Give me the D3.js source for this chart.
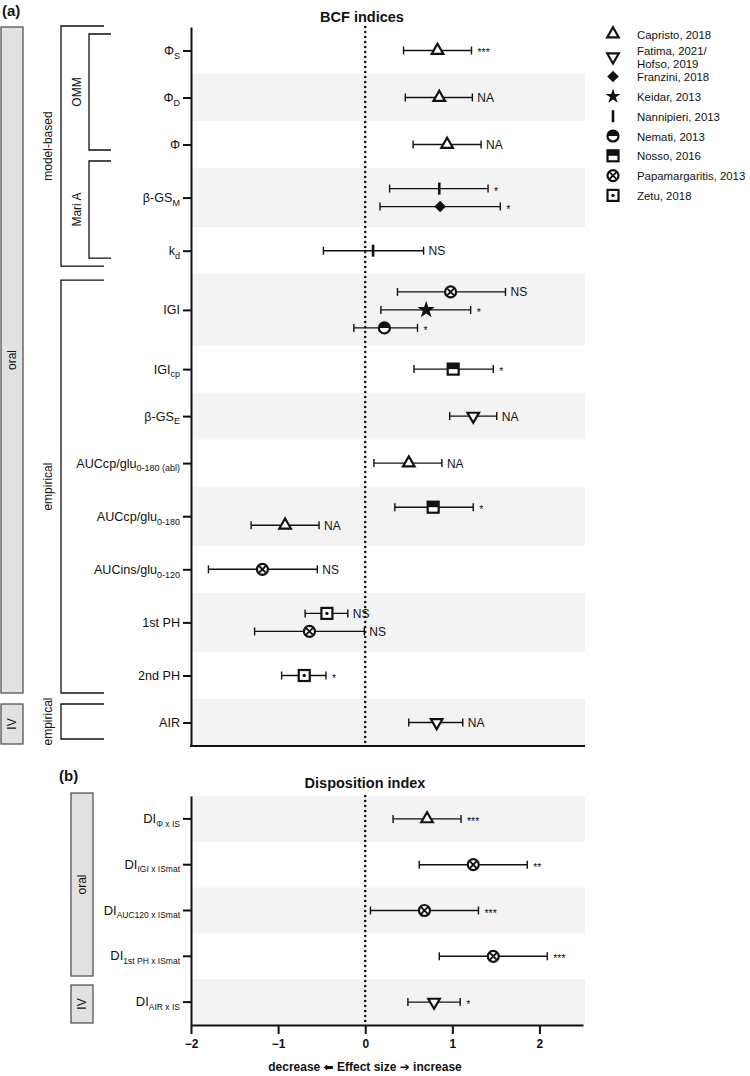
<!DOCTYPE html>
<html>
<head>
<meta charset="utf-8">
<script src="https://cdn.jsdelivr.net/npm/d3@7"></script>
<style>
body { margin: 0; background: #fff; }
text { font-family: "Liberation Sans", Arial, sans-serif; fill: #111; }
</style>
</head>
<body>
<div id="chart"></div>
<script>
// ---- panel (a): BCF indices ----
const bcfLabels = ["Φ", "Φ", "Φ", "β-GS", "k", "IGI", "IGI", "β-GS", "AUCcp/glu", "AUCcp/glu", "AUCins/glu", "1st PH", "2nd PH", "AIR"];
const bcfSubs   = ["S", "D", "", "M", "d", "", "cp", "E", "0-180 (abl)", "0-180", "0-120", "", "", ""];

// one entry per estimate
const bcfRow   = [0, 1, 2, 3, 3, 4, 5, 5, 5, 6, 7, 8, 9, 9, 10, 11, 11, 12, 13];
const bcfStudy = ["Capristo", "Capristo", "Capristo", "Nannipieri", "Franzini", "Nannipieri",
                  "Papamargaritis", "Keidar", "Nemati", "Nosso", "Fatima", "Capristo", "Nosso",
                  "Capristo", "Papamargaritis", "Zetu", "Papamargaritis", "Zetu", "Fatima"];
const bcfEst = [0.83, 0.85, 0.94, 0.85, 0.86, 0.09, 0.98, 0.70, 0.22, 1.01, 1.24, 0.50, 0.78, -0.92, -1.18, -0.44, -0.64, -0.70, 0.82];
const bcfLo  = [0.44, 0.46, 0.55, 0.28, 0.17, -0.48, 0.37, 0.18, -0.13, 0.56, 0.97, 0.10, 0.34, -1.31, -1.80, -0.69, -1.27, -0.96, 0.50];
const bcfHi  = [1.22, 1.23, 1.33, 1.41, 1.55, 0.67, 1.61, 1.21, 0.60, 1.47, 1.51, 0.88, 1.24, -0.53, -0.55, -0.20, -0.01, -0.45, 1.12];
const bcfSig = ["***", "NA", "NA", "*", "*", "NS", "NS", "*", "*", "*", "NA", "NA", "*", "NA", "NS", "NS", "NS", "*", "NA"];

// ---- panel (b): disposition index ----
const diSubs  = ["Φ x IS", "IGI x ISmat", "AUC120 x ISmat", "1st PH x ISmat", "AIR x IS"];
const diStudy = ["Capristo", "Papamargaritis", "Papamargaritis", "Papamargaritis", "Fatima"];
const diEst = [0.71, 1.24, 0.68, 1.47, 0.79];
const diLo  = [0.32, 0.62, 0.06, 0.85, 0.49];
const diHi  = [1.10, 1.86, 1.30, 2.09, 1.09];
const diSig = ["***", "**", "***", "***", "*"];

// ---- legend / axis ----
const studies = ["Capristo", "Fatima", "Franzini", "Keidar", "Nannipieri", "Nemati", "Nosso", "Papamargaritis", "Zetu"];
const studyLabels = [["Capristo, 2018"], ["Fatima, 2021/", "Hofso, 2019"], ["Franzini, 2018"], ["Keidar, 2013"],
                     ["Nannipieri, 2013"], ["Nemati, 2013"], ["Nosso, 2016"], ["Papamargaritis, 2013"], ["Zetu, 2018"]];
const xTicks = [-2, -1, 0, 1, 2];

const W = 750, H = 1076;
const svg = d3.select("#chart").append("svg")
    .attr("width", W).attr("height", H)
    .attr("viewBox", `0 0 ${W} ${H}`);

const x = d3.scaleLinear().domain([-2, 2.5]).range([191, 583]);
const plotRight = 585;
const shade = "#f3f3f3";

// row layout for (a): rows with more estimates get more room
const nPerRow = bcfLabels.map((_, i) => bcfRow.filter(r => r === i).length);
const units = nPerRow.map(n => 1 + 0.26 * (n - 1));
const starts = [];
units.reduce((acc, u, i) => { starts[i] = acc; return acc + u; }, 0);
const totalUnits = d3.sum(units);
const yA = d3.scaleLinear().domain([0, totalUnits]).range([27, 746]);
const rowTop = i => yA(starts[i]);
const rowBot = i => yA(starts[i] + units[i]);
const rowMid = i => yA(starts[i] + units[i] / 2);
const midUnits = bcfLabels.map((_, i) => starts[i] + units[i] / 2);

// y position of each estimate inside its row
const bcfY = bcfRow.map((r, k) => {
  const j = bcfRow.slice(0, k).filter(v => v === r).length;
  return rowMid(r) + (j - (nPerRow[r] - 1) / 2) * 18;
});

const yB = d3.scaleBand().domain(diSubs).range([796, 1025]);

// ---- markers ----
function marker(g, study, cx, cy, legend) {
  const m = g.append("g").attr("transform", `translate(${cx},${cy})`);
  const sw = 2.2;
  if (study === "Capristo" || study === "Fatima") {
    m.append("path")
      .attr("d", d3.symbol(d3.symbolTriangle, 58)())
      .attr("transform", study === "Fatima" ? "rotate(180)" : null)
      .attr("fill", "#fff").attr("stroke", "#111").attr("stroke-width", sw);
  } else if (study === "Franzini") {
    m.append("path").attr("d", d3.symbol(d3.symbolSquare, 66)())
      .attr("transform", "rotate(45)").attr("fill", "#111");
  } else if (study === "Keidar") {
    m.append("path").attr("d", d3.symbol(d3.symbolStar, legend ? 70 : 95)()).attr("fill", "#111");
  } else if (study === "Nannipieri") {
    m.append("line").attr("y1", -6).attr("y2", 6)
      .attr("stroke", "#111").attr("stroke-width", 2.6);
  } else if (study === "Nemati") {
    m.append("circle").attr("r", 5.5).attr("fill", "#fff").attr("stroke", "#111").attr("stroke-width", sw);
    m.append("path").attr("d", d3.arc()({ innerRadius: 0, outerRadius: 5.5, startAngle: -Math.PI / 2, endAngle: Math.PI / 2 }))
      .attr("fill", "#111");
  } else if (study === "Nosso") {
    m.append("rect").attr("x", -5.5).attr("y", -5.5).attr("width", 11).attr("height", 11)
      .attr("fill", "#fff").attr("stroke", "#111").attr("stroke-width", sw);
    m.append("rect").attr("x", -5.5).attr("y", -5.5).attr("width", 11).attr("height", 5.5).attr("fill", "#111");
  } else if (study === "Papamargaritis") {
    m.append("circle").attr("r", 5.5).attr("fill", "#fff").attr("stroke", "#111").attr("stroke-width", sw);
    m.append("path").attr("d", "M-3.3,-3.3L3.3,3.3M-3.3,3.3L3.3,-3.3")
      .attr("stroke", "#111").attr("stroke-width", 1.8);
  } else if (study === "Zetu") {
    m.append("rect").attr("x", -5.5).attr("y", -5.5).attr("width", 11).attr("height", 11)
      .attr("fill", "#fff").attr("stroke", "#111").attr("stroke-width", sw);
    m.append("circle").attr("r", 1.7).attr("fill", "#111");
  }
}

function drawEstimates(g, ys, study, est, lo, hi, sig) {
  est.forEach((e, k) => {
    const y = ys[k];
    const row = g.append("g");
    row.append("line").attr("x1", x(lo[k])).attr("x2", x(hi[k])).attr("y1", y).attr("y2", y)
      .attr("stroke", "#111").attr("stroke-width", 1.4);
    [lo[k], hi[k]].forEach(v => row.append("line")
      .attr("x1", x(v)).attr("x2", x(v)).attr("y1", y - 4).attr("y2", y + 4)
      .attr("stroke", "#111").attr("stroke-width", 1.4));
    marker(row, study[k], x(e), y);
    const star = sig[k].startsWith("*");
    row.append("text")
      .attr("x", x(hi[k]) + (star ? 6 : 5))
      .attr("y", y + (star ? 6 : 4.5))
      .attr("font-size", star ? 10.5 : 12)
      .text(sig[k]);
  });
}

function subLabel(text, main, sub, subSize) {
  text.text(null);
  text.append("tspan").text(main);
  if (sub) text.append("tspan").attr("font-size", subSize).attr("dy", "0.42em").text(sub);
}

// ================= panel (a) =================
const ga = svg.append("g");

ga.selectAll("rect.band")
  .data(bcfLabels.map((_, i) => i).filter(i => i % 2 === 1))
  .join("rect")
  .attr("x", x(-2)).attr("width", plotRight - x(-2))
  .attr("y", i => rowTop(i)).attr("height", i => rowBot(i) - rowTop(i))
  .attr("fill", shade);

ga.append("line").attr("x1", x(0)).attr("x2", x(0)).attr("y1", 27).attr("y2", 746)
  .attr("stroke", "#111").attr("stroke-width", 2.6)
  .attr("stroke-dasharray", "0,5").attr("stroke-linecap", "round");

const axA = ga.append("g").attr("transform", `translate(${x(-2)},0)`)
  .call(d3.axisLeft(yA).tickValues(midUnits).tickSize(8).tickSizeOuter(0).tickPadding(3));
axA.select(".domain").attr("stroke-width", 2).attr("stroke", "#111");
axA.selectAll(".tick line").attr("stroke-width", 2).attr("stroke", "#111");
axA.selectAll(".tick text").attr("font-size", 12.6).attr("font-family", "Liberation Sans, Arial, sans-serif")
  .each(function (d, i) { subLabel(d3.select(this), bcfLabels[i], bcfSubs[i], 9); });

ga.append("line").attr("x1", x(-2) - 1).attr("x2", plotRight).attr("y1", 746).attr("y2", 746)
  .attr("stroke", "#111").attr("stroke-width", 2);

drawEstimates(ga, bcfY, bcfStudy, bcfEst, bcfLo, bcfHi, bcfSig);

ga.append("text").attr("x", 362).attr("y", 22).attr("text-anchor", "middle")
  .attr("font-size", 14.5).attr("font-weight", "bold").text("BCF indices");
svg.append("text").attr("x", 2).attr("y", 16).attr("font-size", 15).attr("font-weight", "bold").text("(a)");

// grey group boxes
function groupBox(g, x0, y0, y1, label) {
  g.append("rect").attr("x", x0).attr("y", y0).attr("width", 22).attr("height", y1 - y0)
    .attr("fill", "#e1e1e1").attr("stroke", "#555").attr("stroke-width", 1.3);
  g.append("text").attr("transform", `translate(${x0 + 11},${(y0 + y1) / 2}) rotate(-90)`)
    .attr("text-anchor", "middle").attr("dominant-baseline", "central")
    .attr("font-size", 12).text(label);
}
groupBox(ga, 1, rowTop(0), rowBot(12) - 6, "oral");
groupBox(ga, 1, rowTop(13) + 5, rowBot(13) - 2, "IV");

// brackets
function bracket(g, bx, x1, y0, y1, label, lx) {
  g.append("path").attr("d", `M${x1},${y0}H${bx}V${y1}H${x1}`)
    .attr("fill", "none").attr("stroke", "#111").attr("stroke-width", 1.3);
  g.append("text").attr("transform", `translate(${lx},${(y0 + y1) / 2}) rotate(-90)`)
    .attr("text-anchor", "middle").attr("dominant-baseline", "central")
    .attr("font-size", 12).text(label);
}
bracket(ga, 61, 104, rowTop(0) - 1, rowBot(4) - 8, "model-based", 48);
bracket(ga, 61, 104, rowTop(5) + 6, rowBot(12) - 6, "empirical", 48);
bracket(ga, 61, 104, rowTop(13) + 5, rowBot(13) - 7, "empirical", 48);
bracket(ga, 89, 111, rowTop(0) + 7, rowBot(2) - 18, "OMM", 77);
bracket(ga, 89, 111, rowTop(3) - 7, rowBot(4) - 16, "Mari A", 77);

// legend
const lg = svg.append("g");
studies.forEach((s, i) => {
  const cy = i === 0 ? 34 : 37 + 19.8 * i;
  marker(lg, s, 613, cy, true);
  const lines = studyLabels[i];
  lines.forEach((t, j) => {
    lg.append("text").attr("x", 637)
      .attr("y", cy + 4.5 + (j - (lines.length - 1) / 2) * 13.5)
      .attr("font-size", 11.4).text(t);
  });
});

// ================= panel (b) =================
const gb = svg.append("g");

gb.selectAll("rect.band")
  .data(diSubs.filter((_, i) => i % 2 === 0))
  .join("rect")
  .attr("x", x(-2)).attr("width", plotRight - x(-2))
  .attr("y", d => yB(d)).attr("height", yB.bandwidth())
  .attr("fill", shade);

gb.append("line").attr("x1", x(0)).attr("x2", x(0)).attr("y1", 796).attr("y2", 1025)
  .attr("stroke", "#111").attr("stroke-width", 2.6)
  .attr("stroke-dasharray", "0,5").attr("stroke-linecap", "round");

const axBy = gb.append("g").attr("transform", `translate(${x(-2)},0)`)
  .call(d3.axisLeft(yB).tickSize(8).tickSizeOuter(0).tickPadding(3));
axBy.select(".domain").attr("stroke-width", 2).attr("stroke", "#111");
axBy.selectAll(".tick line").attr("stroke-width", 2).attr("stroke", "#111");
axBy.selectAll(".tick text").attr("font-size", 13).attr("font-family", "Liberation Sans, Arial, sans-serif")
  .each(function (d) { subLabel(d3.select(this), "DI", d, 8.5); });

const axBx = gb.append("g").attr("transform", "translate(0,1025)")
  .call(d3.axisBottom(x).tickValues(xTicks).tickSize(9).tickSizeOuter(0).tickPadding(5).tickFormat(d3.format("d")));
axBx.select(".domain").attr("stroke-width", 2).attr("stroke", "#111");
axBx.selectAll(".tick line").attr("stroke-width", 2).attr("stroke", "#111");
axBx.selectAll(".tick text").attr("font-size", 12).attr("font-weight", "bold")
  .attr("font-family", "Liberation Sans, Arial, sans-serif");

drawEstimates(gb, diSubs.map(d => yB(d) + yB.bandwidth() / 2), diStudy, diEst, diLo, diHi, diSig);

gb.append("text").attr("x", 365).attr("y", 788).attr("text-anchor", "middle")
  .attr("font-size", 14.5).attr("font-weight", "bold").text("Disposition index");
svg.append("text").attr("x", 59).attr("y", 781).attr("font-size", 15).attr("font-weight", "bold").text("(b)");

groupBox(gb, 71, 793, 976, "oral");
groupBox(gb, 71, 985, 1023, "IV");

const xt = svg.append("text").attr("x", 365).attr("y", 1071).attr("text-anchor", "middle")
  .attr("font-size", 12).attr("font-weight", "bold");
xt.append("tspan").text("decrease ");
xt.append("tspan").attr("font-family", "DejaVu Sans").text("\u2B05");
xt.append("tspan").text(" Effect size ");
xt.append("tspan").attr("font-family", "DejaVu Sans").text("\u2794");
xt.append("tspan").text(" increase");
</script>
</body>
</html>
